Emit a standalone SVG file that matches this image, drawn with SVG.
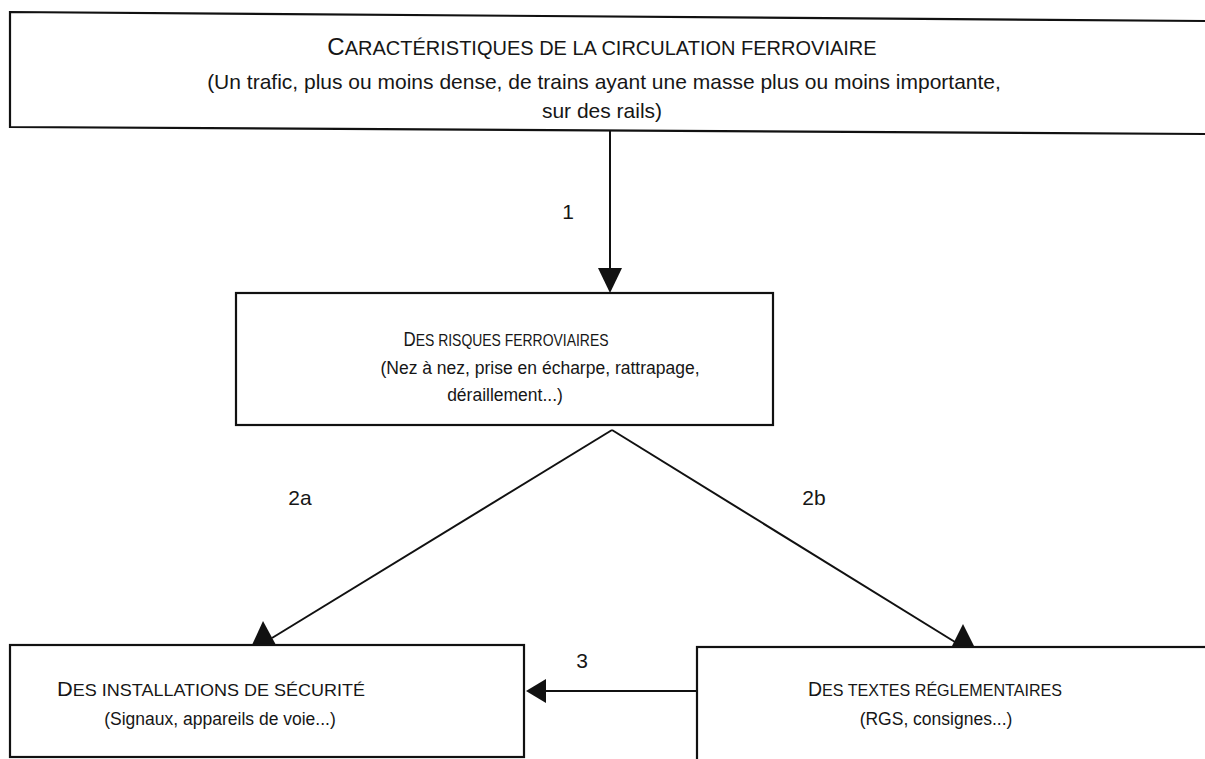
<svg xmlns="http://www.w3.org/2000/svg" width="1205" height="759" viewBox="0 0 1205 759">
<defs>
<style>
.box{fill:#fff;stroke:#111;stroke-width:2.2}
.ln{fill:none;stroke:#111;stroke-width:2}
.hd{fill:#111;stroke:none}
text{font-family:"Liberation Sans","DejaVu Sans",sans-serif;fill:#161616;text-anchor:middle}
.T{font-size:20px}
.TC{font-size:24px}
.TS{font-size:21px}
.t{font-size:16.5px}
.cap{font-size:20px}
.s{font-size:17.5px}
.lbl{font-size:21px}
</style>
</defs>
<rect width="1205" height="759" fill="#fff"/>
<g id="connectors">
<line class="ln" x1="610" y1="130" x2="610" y2="272"/>
<polygon class="hd" points="598,268 622,268 610,293"/>
<line class="ln" x1="612" y1="430" x2="272" y2="638"/>
<polygon class="hd" points="263,621 252,645 276,645"/>
<line class="ln" x1="612" y1="430" x2="955" y2="642"/>
<polygon class="hd" points="963,624 951,648 975,648"/>
<line class="ln" x1="697" y1="691" x2="542" y2="691"/>
<polygon class="hd" points="526,691 546,679 546,703"/>
<text class="lbl" x="568" y="219">1</text>
<text class="lbl" x="300" y="505">2a</text>
<text class="lbl" x="814" y="505">2b</text>
<text class="lbl" x="582" y="668">3</text>
</g>
<g id="node-caracteristiques">
<polygon class="box" points="10,12 1207,21 1207,134 10,127"/>
<text x="602" y="55"><tspan class="TC">C</tspan><tspan class="T">ARACTÉRISTIQUES DE LA CIRCULATION FERROVIAIRE</tspan></text>
<text class="TS" x="604" y="89">(Un trafic, plus ou moins dense, de trains ayant une masse plus ou moins importante,</text>
<text class="TS" x="602" y="118">sur des rails)</text>
</g>
<g id="node-risques">
<rect class="box" x="236" y="293" width="537" height="132"/>
<text x="506" y="346" textLength="205" lengthAdjust="spacingAndGlyphs"><tspan class="cap">D</tspan><tspan class="t">ES RISQUES FERROVIAIRES</tspan></text>
<text class="s" x="540" y="374">(Nez à nez, prise en écharpe, rattrapage,</text>
<text class="s" x="505" y="401">déraillement...)</text>
</g>
<g id="node-installations">
<rect class="box" x="10" y="645" width="514" height="112"/>
<text x="211" y="696" textLength="308" lengthAdjust="spacingAndGlyphs"><tspan class="cap">D</tspan><tspan class="t">ES INSTALLATIONS DE SÉCURITÉ</tspan></text>
<text class="s" x="220" y="725">(Signaux, appareils de voie...)</text>
</g>
<g id="node-textes">
<rect class="box" x="697" y="647" width="520" height="120"/>
<text x="935" y="696" textLength="254" lengthAdjust="spacingAndGlyphs"><tspan class="cap">D</tspan><tspan class="t">ES TEXTES RÉGLEMENTAIRES</tspan></text>
<text class="s" x="936" y="725" font-size="17px">(RGS, consignes...)</text>
</g>
</svg>
